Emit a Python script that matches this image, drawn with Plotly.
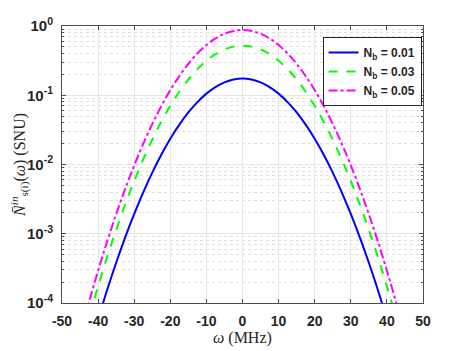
import plotly.graph_objects as go

omega = [-45, -42.5, -40, -37.5, -35, -32.5, -30, -27.5, -25, -22.5, -20, -17.5, -15, -12.5, -10, -7.5, -5, -2.5,
         0, 2.5, 5, 7.5, 10, 12.5, 15, 17.5, 20, 22.5, 25, 27.5, 30, 32.5, 35, 37.5, 40, 42.5, 45]

half_b1 = [0.174, 0.1686, 0.1536, 0.1313, 0.1055, 0.0797, 0.0565, 0.0376, 0.02355, 0.01385, 0.00765,
           0.00397, 0.00193, 0.000885, 0.000381, 0.000154, 0.0000583, 0.0000208, 0.000007]
half_b3 = [0.52, 0.504, 0.459, 0.3925, 0.3154, 0.238, 0.1688, 0.1125, 0.0704, 0.0414, 0.02285,
           0.01185, 0.00578, 0.002644, 0.001137, 0.00046, 0.000174, 0.0000622, 0.0000208]
half_b5 = [0.875, 0.848, 0.772, 0.6605, 0.5307, 0.4006, 0.2841, 0.1893, 0.1184, 0.0697, 0.03845,
           0.01994, 0.00972, 0.00445, 0.001914, 0.000774, 0.000293, 0.0001047, 0.000035]

nb_001 = half_b1[:0:-1] + half_b1
nb_003 = half_b3[:0:-1] + half_b3
nb_005 = half_b5[:0:-1] + half_b5

series_names = ["<b>N<sub>b</sub> = 0.01</b>", "<b>N<sub>b</sub> = 0.03</b>", "<b>N<sub>b</sub> = 0.05</b>"]
x_ticks = [-50, -40, -30, -20, -10, 0, 10, 20, 30, 40, 50]
y_ticks = [1e-4, 1e-3, 1e-2, 1e-1, 1]
y_ticktext = ["10<sup>-4</sup>", "10<sup>-3</sup>", "10<sup>-2</sup>", "10<sup>-1</sup>", "10<sup>0</sup>"]

fig = go.Figure()
styles = [("rgb(0,0,255)", "solid"), ("rgb(0,255,0)", "dash"), ("rgb(255,0,255)", "dashdot")]
for name, ys, (c, d) in zip(series_names, [nb_001, nb_003, nb_005], styles):
    fig.add_trace(go.Scatter(x=omega, y=ys, mode="lines", name=name,
                             line=dict(color=c, dash=d, width=2, shape="spline")))

axis_common = dict(showline=True, linecolor="#4d4d4d", linewidth=1, mirror="ticks",
                   ticks="inside", ticklen=4, tickcolor="#4d4d4d", automargin=False,
                   showgrid=True, gridcolor="#e6e6e6", gridwidth=1, zeroline=False)

fig.update_layout(
    width=460, height=343,
    margin=dict(l=54, r=45, t=18, b=48),
    paper_bgcolor="white", plot_bgcolor="white",
    showlegend=True,
    legend=dict(x=0.996, y=0.96, xanchor="right", yanchor="top", itemwidth=30,
                bgcolor="white", bordercolor="#262626", borderwidth=1,
                font=dict(family="Liberation Sans, Arial, sans-serif", size=12, color="#262626"),
                tracegroupgap=2),
    xaxis=dict(range=[-50, 50], tickvals=x_ticks, ticktext=[f"<b>{v}</b>" for v in x_ticks],
               ticklabelstandoff=5,
               tickfont=dict(family="Liberation Sans, Arial, sans-serif", size=14, color="#262626"),
               **axis_common),
    yaxis=dict(type="log", range=[-4, 0], tickvals=y_ticks,
               ticktext=[f"<b>{t}</b>" for t in y_ticktext], ticklabelstandoff=5,
               tickfont=dict(family="Liberation Sans, Arial, sans-serif", size=15, color="#262626"),
               minor=dict(ticks="inside", ticklen=2, tickcolor="#4d4d4d", showgrid=True,
                          gridcolor="#e0e0e0", griddash="dot",
                          tickvals=[m * 10 ** e for e in range(-4, 0) for m in range(2, 10)]),
               **axis_common),
    annotations=[
        dict(text="<i>ω</i> (MHz)", xref="paper", yref="paper", x=0.5, y=-0.125,
             xanchor="center", yanchor="middle", showarrow=False,
             font=dict(family="Liberation Serif, serif", size=16, color="#262626")),
        dict(text="<i>N̄</i><sup><i>in</i></sup><sub>s(i)</sub>(<i>ω</i>) (SNU)", xref="paper", yref="paper",
             x=-0.118, y=0.5, xanchor="center", yanchor="middle", textangle=-90, showarrow=False,
             font=dict(family="Liberation Serif, serif", size=16, color="#262626")),
    ],
)

fig.write_html("out.html")
